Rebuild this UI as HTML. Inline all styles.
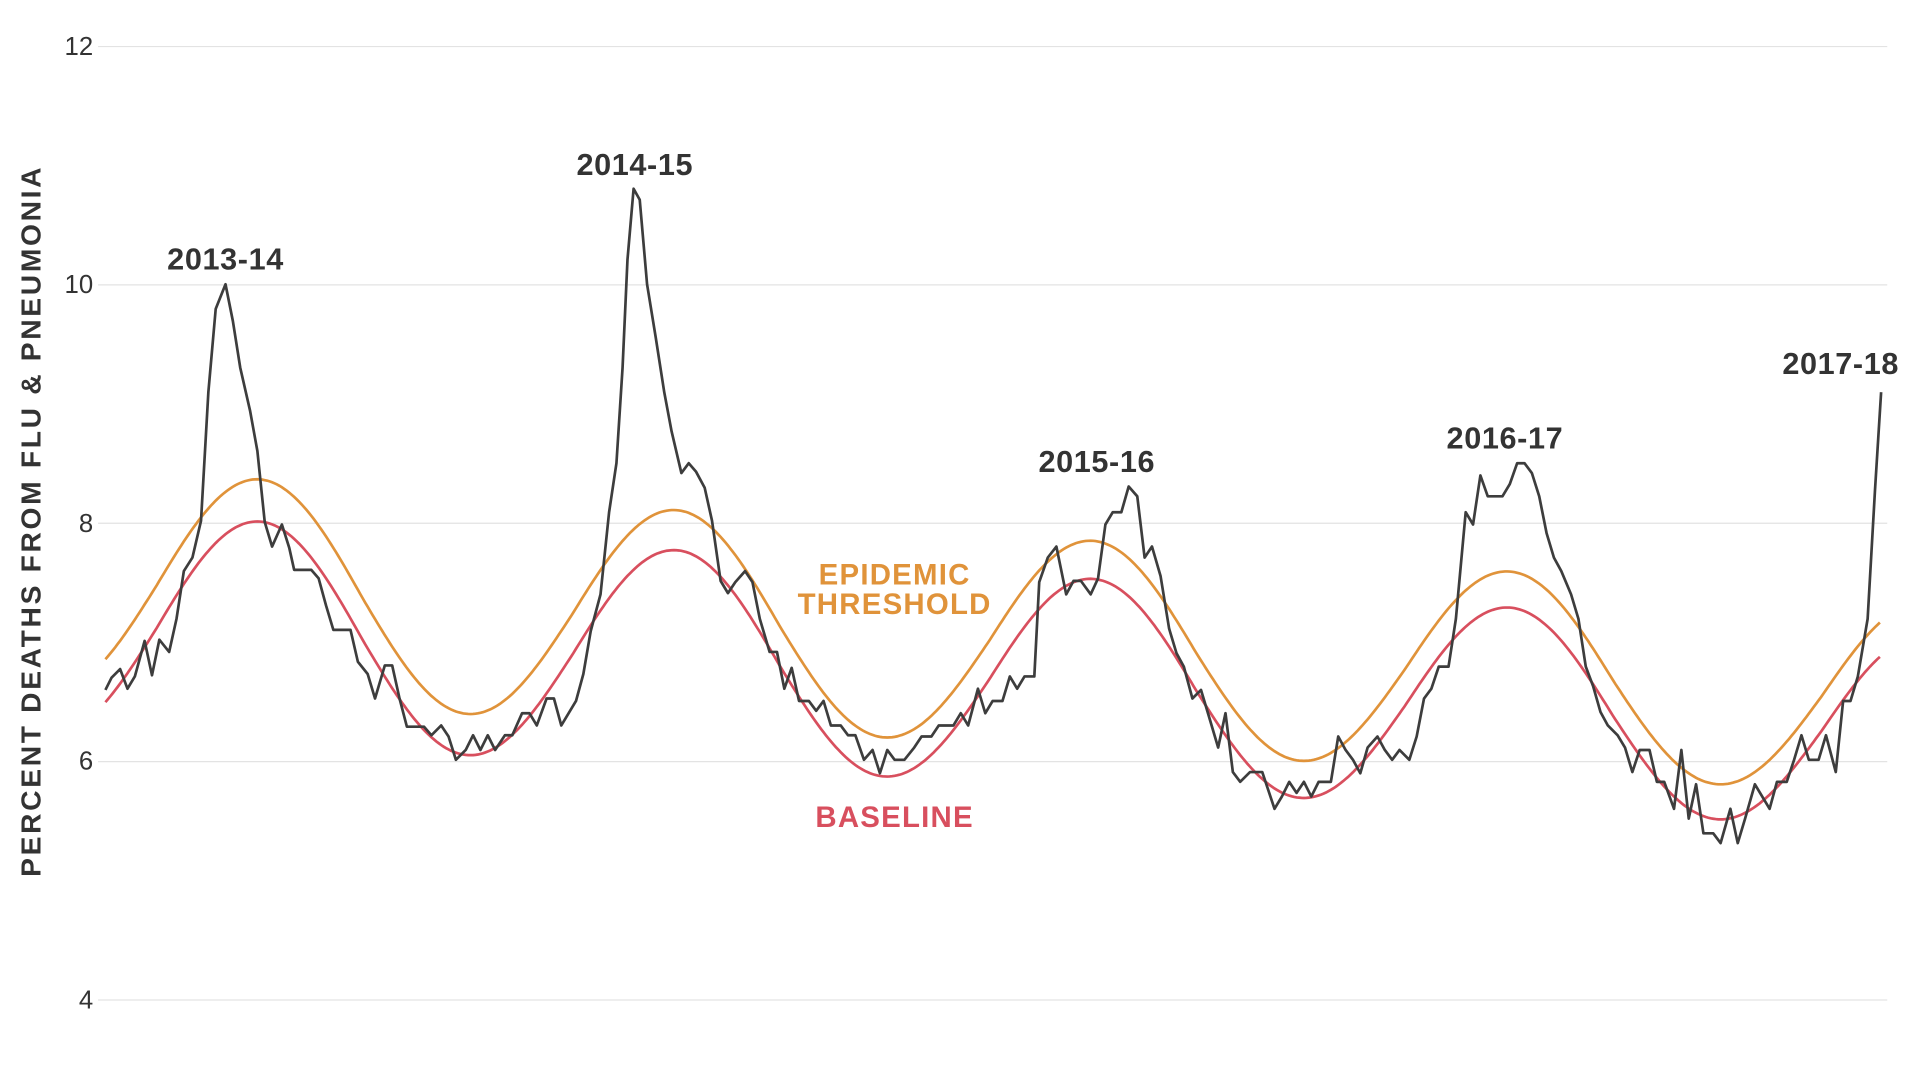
<!DOCTYPE html>
<html><head><meta charset="utf-8"><style>
html,body{margin:0;padding:0;background:#fff;}
svg{display:block;}
text{font-family:"Liberation Sans",sans-serif;}
</style></head><body>
<svg id="s" width="1920" height="1080" viewBox="0 0 1566.7 881.3" xmlns="http://www.w3.org/2000/svg">
<g stroke="#e3e3e3" stroke-width="1">
<line x1="80" y1="38" x2="1540" y2="38"/>
<line x1="80" y1="232.5" x2="1540" y2="232.5"/>
<line x1="80" y1="427" x2="1540" y2="427"/>
<line x1="80" y1="621.5" x2="1540" y2="621.5"/>
<line x1="80" y1="816" x2="1540" y2="816"/>
</g>
<g font-size="21" fill="#333" text-anchor="end">
<text x="76" y="45">12</text>
<text x="76" y="239">10</text>
<text x="76" y="434">8</text>
<text x="76" y="628">6</text>
<text x="76" y="823">4</text>
</g>
<text transform="translate(33,425) rotate(-90)" text-anchor="middle" font-size="23" font-weight="bold" fill="#333" letter-spacing="2.2">PERCENT DEATHS FROM FLU &amp; PNEUMONIA</text>
<path id="thr" fill="none" stroke="#e0933a" stroke-width="2.2"/>
<path id="base" fill="none" stroke="#d84f5e" stroke-width="2.2"/>
<polyline fill="none" stroke="#3d3d3d" stroke-width="2.2" stroke-linejoin="round" points="86,563 91,553 98,546 104,562 110,552 118,523 124,551 130,522 138,532 144,505 150,466 157,455 164,425 170,320 176,252 184,232 190,262 196,300 204,335 210,368 216,426 222,446 230,428 236,447 240,465 254,465 260,472 266,494 272,514 286,514 292,540 300,550 306,570 314,543 320,543 326,570 332,593 346,593 352,600 360,592 366,601 372,620 380,612 386,600 392,612 398,600 404,612 412,600 418,600 426,582 432,582 438,592 446,570 452,570 458,592 464,582 470,572 476,550 482,515 490,485 497,418 503,378 508,300 512,212 517,154 522,163 528,232 535,275 542,320 548,352 556,386 562,378 568,385 575,398 581,425 588,474 594,484 600,475 608,466 614,475 620,505 628,532 634,532 640,562 646,545 652,572 660,572 666,580 672,572 678,592 686,592 692,600 698,600 705,620 712,612 718,631 724,612 730,620 738,620 746,610 752,601 760,601 766,592 778,592 784,582 790,592 798,562 804,582 810,572 818,572 824,552 830,562 836,552 844,552 848,475 855,455 862,446 870,485 876,474 882,474 890,485 896,472 902,428 908,418 915,418 921,397 928,405 934,455 940,446 947,470 954,513 960,533 966,544 973,570 980,563 986,583 994,610 1000,582 1006,630 1012,638 1020,630 1030,630 1040,660 1046,650 1052,638 1058,647 1064,638 1070,650 1076,638 1086,638 1092,601 1098,612 1104,620 1110,631 1116,610 1124,601 1130,612 1136,620 1142,612 1150,620 1156,601 1162,570 1168,562 1174,544 1182,544 1188,505 1196,418 1202,428 1208,388 1214,405 1226,405 1232,395 1238,378 1244,378 1250,386 1256,405 1262,435 1268,455 1274,466 1282,485 1288,505 1294,544 1300,560 1306,581 1312,592 1320,600 1326,610 1332,630 1338,612 1346,612 1352,638 1358,638 1366,660 1372,612 1378,668 1384,640 1390,680 1398,680 1404,688 1412,660 1418,688 1424,668 1432,640 1438,650 1444,660 1450,638 1458,638 1464,620 1470,600 1476,620 1484,620 1490,600 1498,630 1504,572 1510,572 1516,552 1524,505 1530,400 1535,320"/>
<g font-size="25" font-weight="bold" fill="#333" text-anchor="middle" letter-spacing="0.5">
<text x="184" y="220">2013-14</text>
<text x="518" y="143">2014-15</text>
<text x="895" y="385">2015-16</text>
<text x="1228" y="366">2016-17</text>
<text x="1502" y="305">2017-18</text>
</g>
<g font-size="24" font-weight="bold" fill="#e0933a" text-anchor="middle" letter-spacing="1">
<text x="730" y="477">EPIDEMIC</text>
<text x="730" y="501">THRESHOLD</text>
</g>
<text x="730" y="675" font-size="24" font-weight="bold" fill="#d84f5e" text-anchor="middle" letter-spacing="1">BASELINE</text>
<script>
function Y(v){return 816-(v-4)*97.25;}
var b="",t="";
for(var x=86;x<=1535;x+=2){
 var M=7.0-0.000618*(x-300), A=0.96-0.00009*(x-212);
 var c=Math.cos(2*Math.PI*(x-212)/340);
 var v=M+A*c; if(c<0) v+=0.05*(-c);
 var d=0.36-0.00005*(x-86);
 b+=(x==86?"M":"L")+x+","+Y(v).toFixed(1);
 t+=(x==86?"M":"L")+x+","+Y(v+d).toFixed(1);
}
document.getElementById("base").setAttribute("d",b);
document.getElementById("thr").setAttribute("d",t);
</script>
</svg>
</body></html>
